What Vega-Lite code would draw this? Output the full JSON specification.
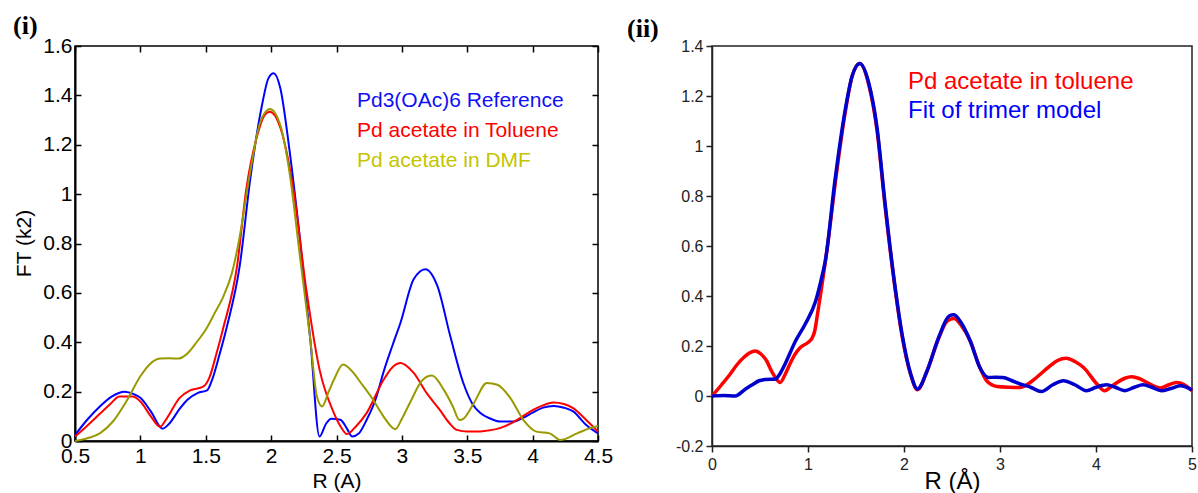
{
  "$schema": "https://vega.github.io/schema/vega-lite/v6.json",
  "autosize": {"type": "none"},
  "padding": {"left": 75, "top": 46, "right": 1123, "bottom": 447},
  "background": "white",
  "config": {
    "font": "Liberation Sans",
    "axis": {"grid": false, "labelColor": "#000", "titleColor": "#000", "titleFontWeight": "normal", "labelFont": "Liberation Sans", "titleFont": "Liberation Sans"},
    "legend": {"titleFontWeight": "normal"}
  },
  "datasets": {
    "left": [
      {"R": 0.5, "FT": 0.024, "series": "Pd3(OAc)6 Reference"},
      {"R": 0.6, "FT": 0.09, "series": "Pd3(OAc)6 Reference"},
      {"R": 0.69, "FT": 0.14, "series": "Pd3(OAc)6 Reference"},
      {"R": 0.78, "FT": 0.18, "series": "Pd3(OAc)6 Reference"},
      {"R": 0.88, "FT": 0.2, "series": "Pd3(OAc)6 Reference"},
      {"R": 0.95, "FT": 0.19, "series": "Pd3(OAc)6 Reference"},
      {"R": 1.0, "FT": 0.175, "series": "Pd3(OAc)6 Reference"},
      {"R": 1.08, "FT": 0.12, "series": "Pd3(OAc)6 Reference"},
      {"R": 1.17, "FT": 0.05, "series": "Pd3(OAc)6 Reference"},
      {"R": 1.22, "FT": 0.07, "series": "Pd3(OAc)6 Reference"},
      {"R": 1.3, "FT": 0.13, "series": "Pd3(OAc)6 Reference"},
      {"R": 1.36, "FT": 0.167, "series": "Pd3(OAc)6 Reference"},
      {"R": 1.44, "FT": 0.195, "series": "Pd3(OAc)6 Reference"},
      {"R": 1.51, "FT": 0.205, "series": "Pd3(OAc)6 Reference"},
      {"R": 1.55, "FT": 0.25, "series": "Pd3(OAc)6 Reference"},
      {"R": 1.6, "FT": 0.34, "series": "Pd3(OAc)6 Reference"},
      {"R": 1.66, "FT": 0.46, "series": "Pd3(OAc)6 Reference"},
      {"R": 1.76, "FT": 0.71, "series": "Pd3(OAc)6 Reference"},
      {"R": 1.84, "FT": 1.06, "series": "Pd3(OAc)6 Reference"},
      {"R": 1.93, "FT": 1.36, "series": "Pd3(OAc)6 Reference"},
      {"R": 1.98, "FT": 1.47, "series": "Pd3(OAc)6 Reference"},
      {"R": 2.02, "FT": 1.49, "series": "Pd3(OAc)6 Reference"},
      {"R": 2.07, "FT": 1.43, "series": "Pd3(OAc)6 Reference"},
      {"R": 2.14, "FT": 1.18, "series": "Pd3(OAc)6 Reference"},
      {"R": 2.22, "FT": 0.82, "series": "Pd3(OAc)6 Reference"},
      {"R": 2.3, "FT": 0.41, "series": "Pd3(OAc)6 Reference"},
      {"R": 2.37, "FT": 0.018, "series": "Pd3(OAc)6 Reference"},
      {"R": 2.42, "FT": 0.07, "series": "Pd3(OAc)6 Reference"},
      {"R": 2.46, "FT": 0.09, "series": "Pd3(OAc)6 Reference"},
      {"R": 2.53, "FT": 0.086, "series": "Pd3(OAc)6 Reference"},
      {"R": 2.58, "FT": 0.05, "series": "Pd3(OAc)6 Reference"},
      {"R": 2.62, "FT": 0.018, "series": "Pd3(OAc)6 Reference"},
      {"R": 2.67, "FT": 0.03, "series": "Pd3(OAc)6 Reference"},
      {"R": 2.73, "FT": 0.085, "series": "Pd3(OAc)6 Reference"},
      {"R": 2.8, "FT": 0.17, "series": "Pd3(OAc)6 Reference"},
      {"R": 2.86, "FT": 0.28, "series": "Pd3(OAc)6 Reference"},
      {"R": 2.93, "FT": 0.39, "series": "Pd3(OAc)6 Reference"},
      {"R": 2.99, "FT": 0.48, "series": "Pd3(OAc)6 Reference"},
      {"R": 3.09, "FT": 0.655, "series": "Pd3(OAc)6 Reference"},
      {"R": 3.18, "FT": 0.696, "series": "Pd3(OAc)6 Reference"},
      {"R": 3.27, "FT": 0.63, "series": "Pd3(OAc)6 Reference"},
      {"R": 3.37, "FT": 0.425, "series": "Pd3(OAc)6 Reference"},
      {"R": 3.47, "FT": 0.235, "series": "Pd3(OAc)6 Reference"},
      {"R": 3.54, "FT": 0.15, "series": "Pd3(OAc)6 Reference"},
      {"R": 3.6, "FT": 0.113, "series": "Pd3(OAc)6 Reference"},
      {"R": 3.68, "FT": 0.09, "series": "Pd3(OAc)6 Reference"},
      {"R": 3.75, "FT": 0.079, "series": "Pd3(OAc)6 Reference"},
      {"R": 3.85, "FT": 0.079, "series": "Pd3(OAc)6 Reference"},
      {"R": 3.93, "FT": 0.095, "series": "Pd3(OAc)6 Reference"},
      {"R": 4.0, "FT": 0.115, "series": "Pd3(OAc)6 Reference"},
      {"R": 4.08, "FT": 0.135, "series": "Pd3(OAc)6 Reference"},
      {"R": 4.16, "FT": 0.142, "series": "Pd3(OAc)6 Reference"},
      {"R": 4.24, "FT": 0.135, "series": "Pd3(OAc)6 Reference"},
      {"R": 4.31, "FT": 0.12, "series": "Pd3(OAc)6 Reference"},
      {"R": 4.41, "FT": 0.065, "series": "Pd3(OAc)6 Reference"},
      {"R": 4.5, "FT": 0.031, "series": "Pd3(OAc)6 Reference"},

      {"R": 0.5, "FT": 0.018, "series": "Pd acetate in Toluene"},
      {"R": 0.6, "FT": 0.065, "series": "Pd acetate in Toluene"},
      {"R": 0.69, "FT": 0.11, "series": "Pd acetate in Toluene"},
      {"R": 0.77, "FT": 0.15, "series": "Pd acetate in Toluene"},
      {"R": 0.84, "FT": 0.18, "series": "Pd acetate in Toluene"},
      {"R": 0.94, "FT": 0.18, "series": "Pd acetate in Toluene"},
      {"R": 1.0, "FT": 0.16, "series": "Pd acetate in Toluene"},
      {"R": 1.08, "FT": 0.1, "series": "Pd acetate in Toluene"},
      {"R": 1.15, "FT": 0.058, "series": "Pd acetate in Toluene"},
      {"R": 1.2, "FT": 0.09, "series": "Pd acetate in Toluene"},
      {"R": 1.3, "FT": 0.175, "series": "Pd acetate in Toluene"},
      {"R": 1.38, "FT": 0.205, "series": "Pd acetate in Toluene"},
      {"R": 1.48, "FT": 0.22, "series": "Pd acetate in Toluene"},
      {"R": 1.53, "FT": 0.26, "series": "Pd acetate in Toluene"},
      {"R": 1.58, "FT": 0.35, "series": "Pd acetate in Toluene"},
      {"R": 1.63, "FT": 0.45, "series": "Pd acetate in Toluene"},
      {"R": 1.74, "FT": 0.71, "series": "Pd acetate in Toluene"},
      {"R": 1.81, "FT": 1.02, "series": "Pd acetate in Toluene"},
      {"R": 1.89, "FT": 1.23, "series": "Pd acetate in Toluene"},
      {"R": 1.95, "FT": 1.32, "series": "Pd acetate in Toluene"},
      {"R": 1.99, "FT": 1.334, "series": "Pd acetate in Toluene"},
      {"R": 2.07, "FT": 1.27, "series": "Pd acetate in Toluene"},
      {"R": 2.17, "FT": 1.02, "series": "Pd acetate in Toluene"},
      {"R": 2.27, "FT": 0.61, "series": "Pd acetate in Toluene"},
      {"R": 2.37, "FT": 0.29, "series": "Pd acetate in Toluene"},
      {"R": 2.48, "FT": 0.113, "series": "Pd acetate in Toluene"},
      {"R": 2.53, "FT": 0.06, "series": "Pd acetate in Toluene"},
      {"R": 2.58, "FT": 0.028, "series": "Pd acetate in Toluene"},
      {"R": 2.65, "FT": 0.06, "series": "Pd acetate in Toluene"},
      {"R": 2.73, "FT": 0.113, "series": "Pd acetate in Toluene"},
      {"R": 2.86, "FT": 0.248, "series": "Pd acetate in Toluene"},
      {"R": 2.93, "FT": 0.3, "series": "Pd acetate in Toluene"},
      {"R": 2.99, "FT": 0.316, "series": "Pd acetate in Toluene"},
      {"R": 3.09, "FT": 0.276, "series": "Pd acetate in Toluene"},
      {"R": 3.19, "FT": 0.194, "series": "Pd acetate in Toluene"},
      {"R": 3.29, "FT": 0.126, "series": "Pd acetate in Toluene"},
      {"R": 3.36, "FT": 0.075, "series": "Pd acetate in Toluene"},
      {"R": 3.42, "FT": 0.045, "series": "Pd acetate in Toluene"},
      {"R": 3.5, "FT": 0.038, "series": "Pd acetate in Toluene"},
      {"R": 3.57, "FT": 0.038, "series": "Pd acetate in Toluene"},
      {"R": 3.65, "FT": 0.042, "series": "Pd acetate in Toluene"},
      {"R": 3.75, "FT": 0.052, "series": "Pd acetate in Toluene"},
      {"R": 3.83, "FT": 0.07, "series": "Pd acetate in Toluene"},
      {"R": 3.9, "FT": 0.092, "series": "Pd acetate in Toluene"},
      {"R": 4.0, "FT": 0.125, "series": "Pd acetate in Toluene"},
      {"R": 4.06, "FT": 0.14, "series": "Pd acetate in Toluene"},
      {"R": 4.16, "FT": 0.156, "series": "Pd acetate in Toluene"},
      {"R": 4.24, "FT": 0.15, "series": "Pd acetate in Toluene"},
      {"R": 4.31, "FT": 0.133, "series": "Pd acetate in Toluene"},
      {"R": 4.41, "FT": 0.085, "series": "Pd acetate in Toluene"},
      {"R": 4.5, "FT": 0.038, "series": "Pd acetate in Toluene"},

      {"R": 0.5, "FT": 0.0, "series": "Pd acetate in DMF"},
      {"R": 0.6, "FT": 0.012, "series": "Pd acetate in DMF"},
      {"R": 0.69, "FT": 0.031, "series": "Pd acetate in DMF"},
      {"R": 0.79, "FT": 0.079, "series": "Pd acetate in DMF"},
      {"R": 0.9, "FT": 0.167, "series": "Pd acetate in DMF"},
      {"R": 1.0, "FT": 0.262, "series": "Pd acetate in DMF"},
      {"R": 1.07, "FT": 0.31, "series": "Pd acetate in DMF"},
      {"R": 1.15, "FT": 0.334, "series": "Pd acetate in DMF"},
      {"R": 1.22, "FT": 0.335, "series": "Pd acetate in DMF"},
      {"R": 1.29, "FT": 0.334, "series": "Pd acetate in DMF"},
      {"R": 1.35, "FT": 0.35, "series": "Pd acetate in DMF"},
      {"R": 1.43, "FT": 0.4, "series": "Pd acetate in DMF"},
      {"R": 1.51, "FT": 0.46, "series": "Pd acetate in DMF"},
      {"R": 1.57, "FT": 0.52, "series": "Pd acetate in DMF"},
      {"R": 1.63, "FT": 0.58, "series": "Pd acetate in DMF"},
      {"R": 1.7, "FT": 0.68, "series": "Pd acetate in DMF"},
      {"R": 1.75, "FT": 0.8, "series": "Pd acetate in DMF"},
      {"R": 1.84, "FT": 1.09, "series": "Pd acetate in DMF"},
      {"R": 1.91, "FT": 1.28, "series": "Pd acetate in DMF"},
      {"R": 1.96, "FT": 1.335, "series": "Pd acetate in DMF"},
      {"R": 1.99, "FT": 1.345, "series": "Pd acetate in DMF"},
      {"R": 2.07, "FT": 1.28, "series": "Pd acetate in DMF"},
      {"R": 2.14, "FT": 1.09, "series": "Pd acetate in DMF"},
      {"R": 2.22, "FT": 0.75, "series": "Pd acetate in DMF"},
      {"R": 2.3, "FT": 0.41, "series": "Pd acetate in DMF"},
      {"R": 2.35, "FT": 0.18, "series": "Pd acetate in DMF"},
      {"R": 2.39, "FT": 0.14, "series": "Pd acetate in DMF"},
      {"R": 2.44, "FT": 0.2, "series": "Pd acetate in DMF"},
      {"R": 2.48, "FT": 0.248, "series": "Pd acetate in DMF"},
      {"R": 2.55, "FT": 0.31, "series": "Pd acetate in DMF"},
      {"R": 2.63, "FT": 0.276, "series": "Pd acetate in DMF"},
      {"R": 2.68, "FT": 0.24, "series": "Pd acetate in DMF"},
      {"R": 2.78, "FT": 0.167, "series": "Pd acetate in DMF"},
      {"R": 2.86, "FT": 0.099, "series": "Pd acetate in DMF"},
      {"R": 2.95, "FT": 0.048, "series": "Pd acetate in DMF"},
      {"R": 3.0, "FT": 0.09, "series": "Pd acetate in DMF"},
      {"R": 3.06, "FT": 0.153, "series": "Pd acetate in DMF"},
      {"R": 3.16, "FT": 0.248, "series": "Pd acetate in DMF"},
      {"R": 3.23, "FT": 0.265, "series": "Pd acetate in DMF"},
      {"R": 3.32, "FT": 0.208, "series": "Pd acetate in DMF"},
      {"R": 3.39, "FT": 0.14, "series": "Pd acetate in DMF"},
      {"R": 3.44, "FT": 0.085, "series": "Pd acetate in DMF"},
      {"R": 3.47, "FT": 0.09, "series": "Pd acetate in DMF"},
      {"R": 3.55, "FT": 0.153, "series": "Pd acetate in DMF"},
      {"R": 3.65, "FT": 0.235, "series": "Pd acetate in DMF"},
      {"R": 3.73, "FT": 0.228, "series": "Pd acetate in DMF"},
      {"R": 3.83, "FT": 0.174, "series": "Pd acetate in DMF"},
      {"R": 3.93, "FT": 0.085, "series": "Pd acetate in DMF"},
      {"R": 4.03, "FT": 0.038, "series": "Pd acetate in DMF"},
      {"R": 4.13, "FT": 0.031, "series": "Pd acetate in DMF"},
      {"R": 4.21, "FT": 0.004, "series": "Pd acetate in DMF"},
      {"R": 4.34, "FT": 0.031, "series": "Pd acetate in DMF"},
      {"R": 4.44, "FT": 0.052, "series": "Pd acetate in DMF"},
      {"R": 4.5, "FT": 0.061, "series": "Pd acetate in DMF"}
    ],
    "right": [
      {"R": 0.0, "FT": 0.0, "series": "Pd acetate in toluene"},
      {"R": 0.1, "FT": 0.045, "series": "Pd acetate in toluene"},
      {"R": 0.19, "FT": 0.088, "series": "Pd acetate in toluene"},
      {"R": 0.26, "FT": 0.125, "series": "Pd acetate in toluene"},
      {"R": 0.33, "FT": 0.154, "series": "Pd acetate in toluene"},
      {"R": 0.39, "FT": 0.172, "series": "Pd acetate in toluene"},
      {"R": 0.45, "FT": 0.18, "series": "Pd acetate in toluene"},
      {"R": 0.51, "FT": 0.168, "series": "Pd acetate in toluene"},
      {"R": 0.57, "FT": 0.14, "series": "Pd acetate in toluene"},
      {"R": 0.62, "FT": 0.1, "series": "Pd acetate in toluene"},
      {"R": 0.66, "FT": 0.074, "series": "Pd acetate in toluene"},
      {"R": 0.71, "FT": 0.054, "series": "Pd acetate in toluene"},
      {"R": 0.76, "FT": 0.085, "series": "Pd acetate in toluene"},
      {"R": 0.81, "FT": 0.127, "series": "Pd acetate in toluene"},
      {"R": 0.87, "FT": 0.17, "series": "Pd acetate in toluene"},
      {"R": 0.92, "FT": 0.194, "series": "Pd acetate in toluene"},
      {"R": 1.0, "FT": 0.214, "series": "Pd acetate in toluene"},
      {"R": 1.04, "FT": 0.23, "series": "Pd acetate in toluene"},
      {"R": 1.07, "FT": 0.26, "series": "Pd acetate in toluene"},
      {"R": 1.1, "FT": 0.33, "series": "Pd acetate in toluene"},
      {"R": 1.14, "FT": 0.43, "series": "Pd acetate in toluene"},
      {"R": 1.21, "FT": 0.62, "series": "Pd acetate in toluene"},
      {"R": 1.28, "FT": 0.84, "series": "Pd acetate in toluene"},
      {"R": 1.39, "FT": 1.14, "series": "Pd acetate in toluene"},
      {"R": 1.46, "FT": 1.28, "series": "Pd acetate in toluene"},
      {"R": 1.54, "FT": 1.33, "series": "Pd acetate in toluene"},
      {"R": 1.63, "FT": 1.25, "series": "Pd acetate in toluene"},
      {"R": 1.72, "FT": 1.06, "series": "Pd acetate in toluene"},
      {"R": 1.8, "FT": 0.77, "series": "Pd acetate in toluene"},
      {"R": 1.89, "FT": 0.48, "series": "Pd acetate in toluene"},
      {"R": 1.98, "FT": 0.24, "series": "Pd acetate in toluene"},
      {"R": 2.07, "FT": 0.085, "series": "Pd acetate in toluene"},
      {"R": 2.14, "FT": 0.025, "series": "Pd acetate in toluene"},
      {"R": 2.24, "FT": 0.1, "series": "Pd acetate in toluene"},
      {"R": 2.36, "FT": 0.23, "series": "Pd acetate in toluene"},
      {"R": 2.45, "FT": 0.3, "series": "Pd acetate in toluene"},
      {"R": 2.52, "FT": 0.31, "series": "Pd acetate in toluene"},
      {"R": 2.6, "FT": 0.28, "series": "Pd acetate in toluene"},
      {"R": 2.69, "FT": 0.22, "series": "Pd acetate in toluene"},
      {"R": 2.79, "FT": 0.114, "series": "Pd acetate in toluene"},
      {"R": 2.86, "FT": 0.061, "series": "Pd acetate in toluene"},
      {"R": 2.97, "FT": 0.038, "series": "Pd acetate in toluene"},
      {"R": 3.1, "FT": 0.035, "series": "Pd acetate in toluene"},
      {"R": 3.21, "FT": 0.034, "series": "Pd acetate in toluene"},
      {"R": 3.3, "FT": 0.05, "series": "Pd acetate in toluene"},
      {"R": 3.38, "FT": 0.074, "series": "Pd acetate in toluene"},
      {"R": 3.52, "FT": 0.12, "series": "Pd acetate in toluene"},
      {"R": 3.6, "FT": 0.142, "series": "Pd acetate in toluene"},
      {"R": 3.69, "FT": 0.151, "series": "Pd acetate in toluene"},
      {"R": 3.78, "FT": 0.138, "series": "Pd acetate in toluene"},
      {"R": 3.87, "FT": 0.114, "series": "Pd acetate in toluene"},
      {"R": 4.01, "FT": 0.048, "series": "Pd acetate in toluene"},
      {"R": 4.09, "FT": 0.021, "series": "Pd acetate in toluene"},
      {"R": 4.15, "FT": 0.035, "series": "Pd acetate in toluene"},
      {"R": 4.22, "FT": 0.054, "series": "Pd acetate in toluene"},
      {"R": 4.3, "FT": 0.071, "series": "Pd acetate in toluene"},
      {"R": 4.37, "FT": 0.077, "series": "Pd acetate in toluene"},
      {"R": 4.45, "FT": 0.07, "series": "Pd acetate in toluene"},
      {"R": 4.53, "FT": 0.054, "series": "Pd acetate in toluene"},
      {"R": 4.67, "FT": 0.032, "series": "Pd acetate in toluene"},
      {"R": 4.76, "FT": 0.045, "series": "Pd acetate in toluene"},
      {"R": 4.84, "FT": 0.054, "series": "Pd acetate in toluene"},
      {"R": 4.92, "FT": 0.045, "series": "Pd acetate in toluene"},
      {"R": 5.0, "FT": 0.021, "series": "Pd acetate in toluene"},

      {"R": 0.0, "FT": 0.0, "series": "Fit of trimer model"},
      {"R": 0.12, "FT": 0.002, "series": "Fit of trimer model"},
      {"R": 0.24, "FT": 0.0, "series": "Fit of trimer model"},
      {"R": 0.35, "FT": 0.028, "series": "Fit of trimer model"},
      {"R": 0.42, "FT": 0.045, "series": "Fit of trimer model"},
      {"R": 0.49, "FT": 0.061, "series": "Fit of trimer model"},
      {"R": 0.56, "FT": 0.066, "series": "Fit of trimer model"},
      {"R": 0.66, "FT": 0.068, "series": "Fit of trimer model"},
      {"R": 0.71, "FT": 0.09, "series": "Fit of trimer model"},
      {"R": 0.76, "FT": 0.127, "series": "Fit of trimer model"},
      {"R": 0.87, "FT": 0.22, "series": "Fit of trimer model"},
      {"R": 0.97, "FT": 0.287, "series": "Fit of trimer model"},
      {"R": 1.08, "FT": 0.38, "series": "Fit of trimer model"},
      {"R": 1.15, "FT": 0.486, "series": "Fit of trimer model"},
      {"R": 1.18, "FT": 0.54, "series": "Fit of trimer model"},
      {"R": 1.28, "FT": 0.86, "series": "Fit of trimer model"},
      {"R": 1.39, "FT": 1.15, "series": "Fit of trimer model"},
      {"R": 1.46, "FT": 1.28, "series": "Fit of trimer model"},
      {"R": 1.54, "FT": 1.33, "series": "Fit of trimer model"},
      {"R": 1.63, "FT": 1.256, "series": "Fit of trimer model"},
      {"R": 1.72, "FT": 1.07, "series": "Fit of trimer model"},
      {"R": 1.8, "FT": 0.78, "series": "Fit of trimer model"},
      {"R": 1.89, "FT": 0.486, "series": "Fit of trimer model"},
      {"R": 1.98, "FT": 0.247, "series": "Fit of trimer model"},
      {"R": 2.07, "FT": 0.088, "series": "Fit of trimer model"},
      {"R": 2.14, "FT": 0.028, "series": "Fit of trimer model"},
      {"R": 2.24, "FT": 0.1, "series": "Fit of trimer model"},
      {"R": 2.36, "FT": 0.233, "series": "Fit of trimer model"},
      {"R": 2.47, "FT": 0.32, "series": "Fit of trimer model"},
      {"R": 2.52, "FT": 0.325, "series": "Fit of trimer model"},
      {"R": 2.6, "FT": 0.29, "series": "Fit of trimer model"},
      {"R": 2.69, "FT": 0.22, "series": "Fit of trimer model"},
      {"R": 2.79, "FT": 0.114, "series": "Fit of trimer model"},
      {"R": 2.88, "FT": 0.074, "series": "Fit of trimer model"},
      {"R": 2.95, "FT": 0.075, "series": "Fit of trimer model"},
      {"R": 3.03, "FT": 0.074, "series": "Fit of trimer model"},
      {"R": 3.12, "FT": 0.062, "series": "Fit of trimer model"},
      {"R": 3.21, "FT": 0.048, "series": "Fit of trimer model"},
      {"R": 3.32, "FT": 0.035, "series": "Fit of trimer model"},
      {"R": 3.43, "FT": 0.018, "series": "Fit of trimer model"},
      {"R": 3.55, "FT": 0.045, "series": "Fit of trimer model"},
      {"R": 3.66, "FT": 0.061, "series": "Fit of trimer model"},
      {"R": 3.78, "FT": 0.045, "series": "Fit of trimer model"},
      {"R": 3.9, "FT": 0.021, "series": "Fit of trimer model"},
      {"R": 4.0, "FT": 0.035, "series": "Fit of trimer model"},
      {"R": 4.11, "FT": 0.045, "series": "Fit of trimer model"},
      {"R": 4.2, "FT": 0.035, "series": "Fit of trimer model"},
      {"R": 4.3, "FT": 0.021, "series": "Fit of trimer model"},
      {"R": 4.4, "FT": 0.035, "series": "Fit of trimer model"},
      {"R": 4.49, "FT": 0.045, "series": "Fit of trimer model"},
      {"R": 4.58, "FT": 0.035, "series": "Fit of trimer model"},
      {"R": 4.68, "FT": 0.021, "series": "Fit of trimer model"},
      {"R": 4.78, "FT": 0.03, "series": "Fit of trimer model"},
      {"R": 4.88, "FT": 0.041, "series": "Fit of trimer model"},
      {"R": 5.0, "FT": 0.024, "series": "Fit of trimer model"}
    ]
  },
  "bounds": "flush",
  "spacing": 114,
  "resolve": {"scale": {"color": "independent"}, "legend": {"color": "independent"}},
  "hconcat": [
    {
      "width": 523,
      "height": 395,
      "view": {"stroke": "#000", "strokeWidth": 1.5},
      "title": {"text": "(i)", "anchor": "start", "frame": "group", "font": "Liberation Serif", "fontWeight": "bold", "fontSize": 26, "color": "#000", "dx": -62, "dy": 36, "offset": 11, "baseline": "alphabetic"},
      "data": {"name": "left"},
      "layer": [
        {
          "mark": {"type": "line", "strokeWidth": 2, "interpolate": "monotone"},
          "encoding": {
            "x": {"field": "R", "type": "quantitative", "scale": {"domain": [0.5, 4.5], "nice": false, "zero": false},
              "axis": {"orient": "bottom", "values": [0.5, 1, 1.5, 2, 2.5, 3, 3.5, 4, 4.5], "format": "~g", "title": "R (A)", "tickSize": -6, "labelPadding": 10, "labelFontSize": 21, "titleFontSize": 21, "titleY": 46, "titleBaseline": "alphabetic", "domainColor": "#000", "domainWidth": 2, "tickColor": "#000", "tickWidth": 1.5, "labelFlush": false, "labelOverlap": false}},
            "y": {"field": "FT", "type": "quantitative", "scale": {"domain": [0, 1.6], "nice": false},
              "axis": {"orient": "left", "values": [0, 0.2, 0.4, 0.6, 0.8, 1, 1.2, 1.4, 1.6], "format": "~g", "title": "FT (k2)", "tickSize": -6, "labelPadding": 9, "labelFontSize": 21, "titleFontSize": 21, "titleX": -51, "titleY": 197, "titleAngle": -90, "titleAlign": "center", "titleBaseline": "middle", "domainColor": "#000", "domainWidth": 2, "tickColor": "#000", "tickWidth": 1.5, "labelFlush": false, "labelOverlap": false}},
            "color": {"field": "series", "type": "nominal",
              "scale": {"domain": ["Pd3(OAc)6 Reference", "Pd acetate in Toluene", "Pd acetate in DMF"], "range": ["#0000ff", "#ff0000", "#999900"]},
              "legend": {"orient": "none", "legendX": 261, "legendY": 44, "title": null, "symbolSize": 0, "symbolOpacity": 0, "symbolStrokeWidth": 0, "symbolOffset": 0, "labelOffset": 0, "labelFontSize": 21, "labelFont": "Liberation Sans", "rowPadding": 8, "padding": 0, "labelLimit": 400,
                "labelColor": {"expr": "datum.value === 'Pd3(OAc)6 Reference' ? '#1010f5' : datum.value === 'Pd acetate in Toluene' ? '#ff0000' : '#c4c400'"}}}
          }
        },
        {
          "mark": {"type": "line", "opacity": 0},
          "encoding": {
            "x": {"field": "R", "type": "quantitative", "axis": {"orient": "top", "values": [0.5, 1, 1.5, 2, 2.5, 3, 3.5, 4, 4.5], "labels": false, "title": null, "domain": false, "tickSize": -6, "tickColor": "#000", "tickWidth": 1.5}},
            "y": {"field": "FT", "type": "quantitative", "axis": {"orient": "right", "values": [0, 0.2, 0.4, 0.6, 0.8, 1, 1.2, 1.4, 1.6], "labels": false, "title": null, "domain": false, "tickSize": -6, "tickColor": "#000", "tickWidth": 1.5}}
          }
        }
      ],
      "resolve": {"axis": {"x": "independent", "y": "independent"}}
    },
    {
      "width": 480,
      "height": 400,
      "view": {"stroke": "#222", "strokeWidth": 1.5},
      "title": {"text": "(ii)", "anchor": "start", "frame": "group", "font": "Liberation Serif", "fontWeight": "bold", "fontSize": 26, "color": "#000", "dx": -85, "dy": 36, "offset": 11, "baseline": "alphabetic"},
      "data": {"name": "right"},
      "mark": {"type": "line", "strokeWidth": 3.5, "interpolate": "monotone"},
      "encoding": {
        "x": {"field": "R", "type": "quantitative", "scale": {"domain": [0, 5], "nice": false},
          "axis": {"values": [0, 1, 2, 3, 4, 5], "format": "~g", "title": "R (Å)", "tickSize": 6, "labelPadding": 4, "labelFontSize": 16, "titleFontSize": 24, "titleY": 42, "titleBaseline": "alphabetic", "domainColor": "#222", "domainWidth": 1.5, "tickColor": "#222", "tickWidth": 1.5, "labelColor": "#222", "labelFlush": false}},
        "y": {"field": "FT", "type": "quantitative", "scale": {"domain": [-0.2, 1.4], "nice": false},
          "axis": {"values": [-0.2, 0, 0.2, 0.4, 0.6, 0.8, 1, 1.2, 1.4], "format": "~g", "labelExpr": "replace(datum.label, '−', '-')", "title": null, "tickSize": 6, "labelPadding": 3, "labelFontSize": 16, "domainColor": "#222", "domainWidth": 1.5, "tickColor": "#222", "tickWidth": 1.5, "labelColor": "#222", "labelFlush": false}},
        "color": {"field": "series", "type": "nominal",
          "scale": {"domain": ["Pd acetate in toluene", "Fit of trimer model"], "range": ["#ff0000", "#0000cc"]},
          "legend": {"orient": "none", "legendX": 172, "legendY": 24, "title": null, "symbolSize": 0, "symbolOpacity": 0, "symbolStrokeWidth": 0, "symbolOffset": 0, "labelOffset": 0, "labelFontSize": 24, "labelFont": "Liberation Sans", "rowPadding": 5, "padding": 0, "labelLimit": 400,
            "labelColor": {"expr": "datum.value === 'Fit of trimer model' ? '#0000ff' : '#ff0000'"}}}
      }
    }
  ]
}
